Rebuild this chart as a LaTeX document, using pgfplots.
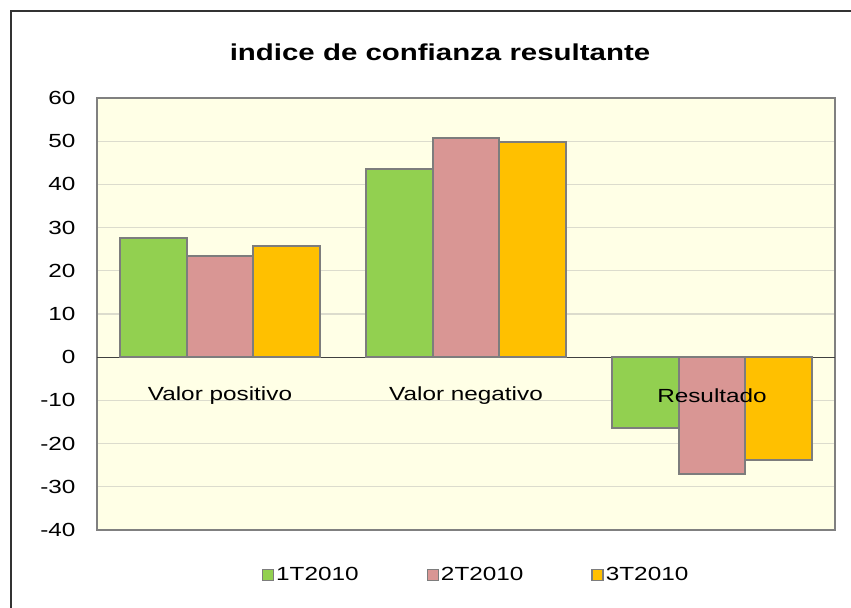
\documentclass[border=0pt]{standalone}
\usepackage{fontspec}
\setmainfont[FakeStretch=1.28]{Liberation Sans}
\usepackage{pgfplots}
\pgfplotsset{compat=1.18}
\definecolor{c1}{RGB}{146,208,80}
\definecolor{c2}{RGB}{217,150,148}
\definecolor{c3}{RGB}{255,192,0}
\definecolor{bgc}{RGB}{255,255,230}
\definecolor{gridc}{RGB}{220,220,205}
\definecolor{bordc}{RGB}{128,128,128}
\definecolor{barline}{RGB}{125,125,125}
\newcommand{\lbl}{\fontsize{19bp}{22bp}\selectfont}
\pgfplotsset{sq/.style={legend image code/.code={\draw[##1,draw=barline,line width=1.4bp] (0bp,-5.5bp) rectangle (11bp,5.5bp);}}}

\begin{document}
\begin{tikzpicture}
\begin{axis}[
    at={(97bp,78bp)}, anchor=south west,
    scale only axis, width=738bp, height=432bp,
    xmin=-0.5, xmax=2.5, ymin=-40, ymax=60, ytick distance=10,
    xtick=\empty,
    ymajorgrids, grid style={draw=gridc, line width=1.2bp},
    extra y ticks={0}, extra y tick labels={},
    extra y tick style={grid style={draw=black!75, line width=1.3bp}},
    axis line style={draw=bordc, line width=1.6bp},
    axis background/.style={fill=bgc},
    tick style={draw=none},
    yticklabel style={font=\lbl, xshift=-18bp, /pgf/number format/assume math mode=true},
    ybar, bar width=0.271,
    every axis plot/.append style={draw=barline, line width=2bp},
    legend style={at={(0.5136,-0.104)}, anchor=center, draw=none, fill=none,
        font=\lbl, legend columns=3,
        /tikz/every even column/.append style={column sep=66bp}},
]
\addplot[fill=c1, bar shift=-0.271, sq] coordinates {(0,27.6) (1,43.6) (2,-16.3)};
\addplot[fill=c2, bar shift=0, sq] coordinates {(0,23.4) (1,50.8) (2,-27.0)};
\addplot[fill=c3, bar shift=0.271, sq] coordinates {(0,25.8) (1,49.8) (2,-23.9)};
\legend{1T2010, 2T2010, 3T2010}
\node[font=\lbl] at (axis cs:0,-8.8) {Valor positivo};
\node[font=\lbl] at (axis cs:1,-8.8) {Valor negativo};
\node[font=\lbl] at (axis cs:2,-8.8) {Resultado};
\end{axis}
\node[font=\fontsize{23bp}{27bp}\selectfont\bfseries] at (440bp,556bp) {indice de confianza resultante};
\draw[line width=1.5bp, draw=black!80] (11bp,0bp) -- (11bp,597bp) -- (851bp,597bp);
\pgfresetboundingbox
\path[use as bounding box] (0bp,0bp) rectangle (851bp,608bp);
\end{tikzpicture}
\end{document}
